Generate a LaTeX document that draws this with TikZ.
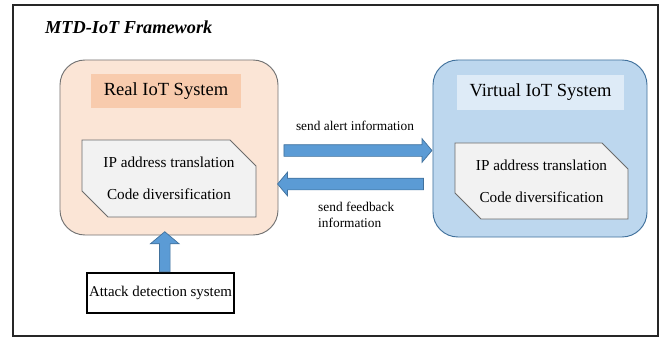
\documentclass[tikz,border=0pt]{standalone}
\usepackage{fontspec}
\setmainfont{Liberation Serif}
\usepackage{tikz}
\usetikzlibrary{shapes.misc, shapes.arrows, calc}
\usepackage{xcolor}
\definecolor{peach}{HTML}{FBE5D6}
\definecolor{peachdark}{HTML}{F8CBAD}
\definecolor{skyblue}{HTML}{BDD7EE}
\definecolor{skylight}{HTML}{DEEBF7}
\definecolor{skyborder}{HTML}{41719C}
\definecolor{arrowfill}{HTML}{5B9BD5}
\definecolor{panelgray}{HTML}{F2F2F2}
\tikzstyle{system} = [draw, line width=0.8pt, rounded corners=0.75cm, inner sep=0pt]
\tikzstyle{systitle} = [inner sep=0pt, font=\fontsize{15.8}{18}\selectfont]
\tikzstyle{panel} = [draw=gray!85!black, line width=0.8pt, fill=panelgray, chamfered rectangle,
  chamfered rectangle corners={north east, south west}, chamfered rectangle xsep=0.39cm,
  chamfered rectangle ysep=0.39cm, inner sep=0pt, align=center, font=\fontsize{13}{15.6}\selectfont]
\tikzstyle{blockarrow} = [single arrow, draw=skyborder, fill=arrowfill, line width=0.6pt,
  inner sep=0.165cm, minimum width=0.69cm, single arrow head extend=0.18cm,
  single arrow tip angle=100, single arrow head indent=0pt]
\tikzstyle{label} = [inner sep=0pt, font=\fontsize{11.4}{13.7}\selectfont]

\begin{document}
\begin{tikzpicture}[x=0.03cm, y=-0.03cm]
  \useasboundingbox (0,0) rectangle (665,339);

  % Outer frame and its title
  \draw[line width=1.3pt, black!85] (13,5) rectangle (658,336);
  \node[anchor=west, inner sep=0pt, font=\fontsize{15.6}{18}\selectfont\bfseries\itshape] (title)
    at (45,27) {MTD-IoT Framework};

  % Real system
  \node[system, draw=gray!90!black, fill=peach, minimum width=6.54cm, minimum height=5.25cm] (real)
    at (169,147.5) {};
  \node[systitle, fill=peachdark, minimum width=4.5cm, minimum height=1.02cm] (realtitle)
    at (166,91) {Real IoT System};
  \node[panel, minimum width=5.22cm, minimum height=2.31cm] (realpanel)
    at (169,178.5) {IP address translation\\[12pt]Code diversification};

  % Virtual system
  \node[system, draw=skyborder, fill=skyblue, minimum width=6.42cm, minimum height=5.31cm] (virtual)
    at (540,148.5) {};
  \node[systitle, fill=skylight, minimum width=5.01cm, minimum height=1.05cm] (virtualtitle)
    at (540.5,92.5) {Virtual IoT System};
  \node[panel, minimum width=5.19cm, minimum height=2.28cm] (virtualpanel)
    at (541.5,181) {IP address translation\\[12pt]Code diversification};

  % Detection box below the real system
  \node[draw, line width=0.9pt, fill=white, minimum width=4.41cm, minimum height=1.2cm,
    inner sep=0pt, font=\fontsize{12.7}{15}\selectfont] (attack) at (160.5,293)
    {\raisebox{3pt}{Attack detection system}};

  % Block arrows between the boxes
  \node[blockarrow, minimum height=4.44cm] (alert) at ($(real.east |- 0,150.5)!0.5!(virtual.west |- 0,150.5)$) {};
  \node[blockarrow, minimum height=4.38cm, shape border rotate=180] (feedback) at (353,184) {};
  \node[blockarrow, minimum height=1.2cm, shape border rotate=90, minimum width=0.84cm,
    inner sep=0.15cm, single arrow head extend=0.27cm] (detect) at ($(attack.north)!0.5!(real.south)$) {};

  % Arrow labels
  \node[label] (alertlabel) at (355,126) {send alert information};
  \node[label, anchor=north west, align=left] (feedbacklabel) at (318,202)
    {send feedback\\information};
\end{tikzpicture}
\end{document}
